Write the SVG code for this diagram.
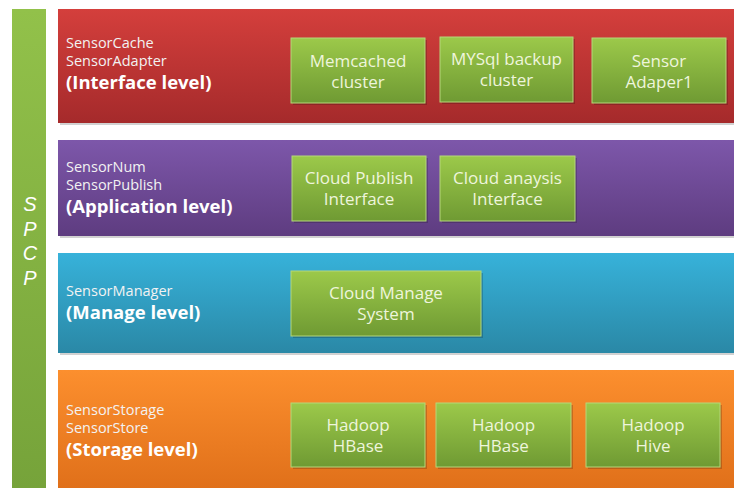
<svg xmlns="http://www.w3.org/2000/svg" width="734" height="488" viewBox="0 0 734 488">
<defs>
<linearGradient id="gRed" x1="0" y1="0" x2="0" y2="1"><stop offset="0" stop-color="#d43f3c"/><stop offset="1" stop-color="#a52a2b"/></linearGradient>
<linearGradient id="gPur" x1="0" y1="0" x2="0" y2="1"><stop offset="0" stop-color="#7d57aa"/><stop offset="1" stop-color="#5e3c80"/></linearGradient>
<linearGradient id="gBlu" x1="0" y1="0" x2="0" y2="1"><stop offset="0" stop-color="#37b2da"/><stop offset="1" stop-color="#2a88a6"/></linearGradient>
<linearGradient id="gOra" x1="0" y1="0" x2="0" y2="1"><stop offset="0" stop-color="#fc8f2e"/><stop offset="1" stop-color="#e0701a"/></linearGradient>
<linearGradient id="gBar" x1="0" y1="0" x2="0" y2="1"><stop offset="0" stop-color="#92c14a"/><stop offset="1" stop-color="#76a33a"/></linearGradient>
<linearGradient id="gBox" x1="0" y1="0" x2="0" y2="1"><stop offset="0" stop-color="#9cc94a"/><stop offset="1" stop-color="#6f9a33"/></linearGradient>
</defs>
<style>
.box{fill:url(#gBox);stroke:#b5d77a;stroke-width:1}
.sh{fill:#000;opacity:0.18}
.lbl{font-family:"Open Sans","Noto Sans",sans-serif;font-size:14.5px;fill:#f2f2f2}
.lvl{font-family:"Open Sans","Noto Sans",sans-serif;font-size:18.5px;font-weight:bold;fill:#ffffff}
.bt{font-family:"Open Sans","Noto Sans",sans-serif;font-size:17px;fill:#eef5dc;text-anchor:middle}
.sp{font-family:"Liberation Sans",Arial,sans-serif;font-size:20px;font-style:italic;fill:#ffffff;text-anchor:middle}
</style>
<rect width="734" height="488" fill="#ffffff"/>
<g id="spcp">
<rect x="12" y="9" width="34" height="479" fill="url(#gBar)"/>
<text class="sp" x="30" y="211">S</text>
<text class="sp" x="30" y="235.5">P</text>
<text class="sp" x="30" y="260">C</text>
<text class="sp" x="30" y="284.5">P</text>
</g>
<g id="interface-level">
<rect x="60" y="11" width="676" height="114" class="sh"/>
<rect x="58" y="9" width="676" height="114" fill="url(#gRed)"/>
<text class="lbl" x="66" y="48">SensorCache</text>
<text class="lbl" x="66" y="66">SensorAdapter</text>
<text class="lvl" x="66" y="89">(Interface level)</text>
</g>
<g id="memcached">
<rect x="293" y="40" width="134" height="65" class="sh"/>
<rect x="291" y="38" width="134" height="65" class="box"/>
<text class="bt" x="358" y="67">Memcached</text>
<text class="bt" x="358" y="88">cluster</text>
</g>
<g id="mysql">
<rect x="442" y="39" width="133" height="65" class="sh"/>
<rect x="440" y="37" width="133" height="65" class="box"/>
<text class="bt" x="506.5" y="65">MYSql backup</text>
<text class="bt" x="506.5" y="86">cluster</text>
</g>
<g id="sensor-adaper1">
<rect x="594" y="40" width="134" height="65" class="sh"/>
<rect x="592" y="38" width="134" height="65" class="box"/>
<text class="bt" x="659" y="67">Sensor</text>
<text class="bt" x="659" y="88">Adaper1</text>
</g>
<g id="application-level">
<rect x="60" y="142" width="676" height="96" class="sh"/>
<rect x="58" y="140" width="676" height="96" fill="url(#gPur)"/>
<text class="lbl" x="66" y="172">SensorNum</text>
<text class="lbl" x="66" y="190">SensorPublish</text>
<text class="lvl" x="66" y="213">(Application level)</text>
</g>
<g id="cloud-publish">
<rect x="294" y="158" width="134" height="65" class="sh"/>
<rect x="292" y="156" width="134" height="65" class="box"/>
<text class="bt" x="359" y="184">Cloud Publish</text>
<text class="bt" x="359" y="205">Interface</text>
</g>
<g id="cloud-anaysis">
<rect x="442" y="158" width="135" height="65" class="sh"/>
<rect x="440" y="156" width="135" height="65" class="box"/>
<text class="bt" x="507.5" y="184">Cloud anaysis</text>
<text class="bt" x="507.5" y="205">Interface</text>
</g>
<g id="manage-level">
<rect x="60" y="255" width="676" height="100" class="sh"/>
<rect x="58" y="253" width="676" height="100" fill="url(#gBlu)"/>
<text class="lbl" x="66" y="296">SensorManager</text>
<text class="lvl" x="66" y="319">(Manage level)</text>
</g>
<g id="cloud-manage">
<rect x="293" y="273" width="190" height="65" class="sh"/>
<rect x="291" y="271" width="190" height="65" class="box"/>
<text class="bt" x="386" y="299">Cloud Manage</text>
<text class="bt" x="386" y="320">System</text>
</g>
<g id="storage-level">
<rect x="58" y="370" width="676" height="118" fill="url(#gOra)"/>
<text class="lbl" x="66" y="415">SensorStorage</text>
<text class="lbl" x="66" y="433">SensorStore</text>
<text class="lvl" x="66" y="456">(Storage level)</text>
</g>
<g id="hadoop-hbase-1">
<rect x="293" y="405" width="134" height="64" class="sh"/>
<rect x="291" y="403" width="134" height="64" class="box"/>
<text class="bt" x="358" y="431">Hadoop</text>
<text class="bt" x="358" y="452">HBase</text>
</g>
<g id="hadoop-hbase-2">
<rect x="438" y="405" width="135" height="64" class="sh"/>
<rect x="436" y="403" width="135" height="64" class="box"/>
<text class="bt" x="503.5" y="431">Hadoop</text>
<text class="bt" x="503.5" y="452">HBase</text>
</g>
<g id="hadoop-hive">
<rect x="588" y="405" width="134" height="64" class="sh"/>
<rect x="586" y="403" width="134" height="64" class="box"/>
<text class="bt" x="653" y="431">Hadoop</text>
<text class="bt" x="653" y="452">Hive</text>
</g>
<g id="connectors"></g>
</svg>
